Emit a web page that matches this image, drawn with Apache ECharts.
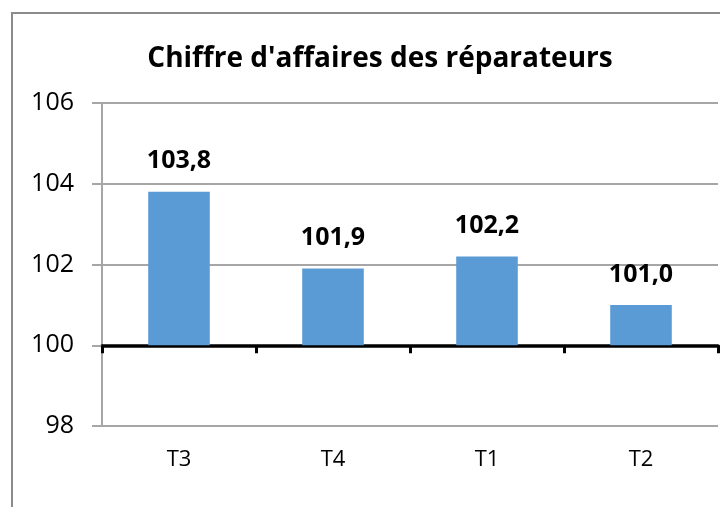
<!DOCTYPE html>
<html><head><meta charset="utf-8">
<script src="https://cdn.jsdelivr.net/npm/echarts@6/dist/echarts.min.js"></script>
<style>html,body{margin:0;padding:0;background:#fff}#c{width:720px;height:507px}</style>
</head><body><div id="c"></div>
<script>
const categories = ['T3', 'T4', 'T1', 'T2'];
const values = [103.8, 101.9, 102.2, 101.0];
const baseline = 100;
const yTicks = { min: 98, max: 106, interval: 2 };
const title = "Chiffre d'affaires des réparateurs";

const FONT = '"Open Sans"';
const chart = echarts.init(document.getElementById('c'), null, { renderer: 'canvas' });
const gridTop = 103, gridBottom = 81, H = 507;
const gridH = H - gridTop - gridBottom;
const axisOffset = -gridH * (baseline - yTicks.min) / (yTicks.max - yTicks.min);

chart.setOption({
  animation: false,
  backgroundColor: '#fff',
  title: {
    text: title, left: 375, top: 40, textAlign: 'center',
    textStyle: { fontFamily: FONT, fontWeight: 'bold', fontSize: 28, color: '#000' }
  },
  graphic: [{
    type: 'rect', shape: { x: 12, y: 13, width: 760, height: 560 },
    style: { fill: 'none', stroke: '#8c8c8c', lineWidth: 2 }, silent: true
  }],
  grid: { left: 102, right: 2, top: gridTop, bottom: gridBottom, containLabel: false },
  xAxis: [{
    type: 'category', data: categories, position: 'bottom',
    axisLine: { show: false }, axisTick: { show: false },
    axisLabel: { margin: 23, fontFamily: FONT, fontSize: 22, color: '#000' }
  }, {
    type: 'category', data: categories, position: 'bottom', offset: axisOffset,
    axisLine: { show: true, lineStyle: { color: '#000', width: 3.5 } },
    axisTick: { show: true, length: 8, lineStyle: { color: '#000', width: 3 } },
    axisLabel: { show: false }
  }],
  yAxis: {
    type: 'value', min: yTicks.min, max: yTicks.max, interval: yTicks.interval,
    axisLine: { show: true, lineStyle: { color: '#a6a6a6', width: 2 } },
    axisTick: { show: true, length: 10, lineStyle: { color: '#a6a6a6', width: 2 } },
    splitLine: { show: true, lineStyle: { color: '#a6a6a6', width: 2 } },
    axisLabel: { margin: 28, fontFamily: FONT, fontSize: 25, color: '#000' }
  },
  series: [{
    type: 'bar', stack: 's', xAxisIndex: 0,
    data: values.map(() => baseline),
    itemStyle: { color: 'transparent' }, silent: true, barWidth: '40%'
  }, {
    type: 'bar', stack: 's', xAxisIndex: 0,
    data: values.map(v => +(v - baseline).toFixed(4)),
    barWidth: '40%',
    itemStyle: { color: '#5b9bd5' },
    label: {
      show: true, position: 'top', distance: 18,
      fontFamily: FONT, fontWeight: 'bold', fontSize: 25, color: '#000',
      formatter: p => values[p.dataIndex].toFixed(1).replace('.', ',')
    }
  }]
});
</script></body></html>
